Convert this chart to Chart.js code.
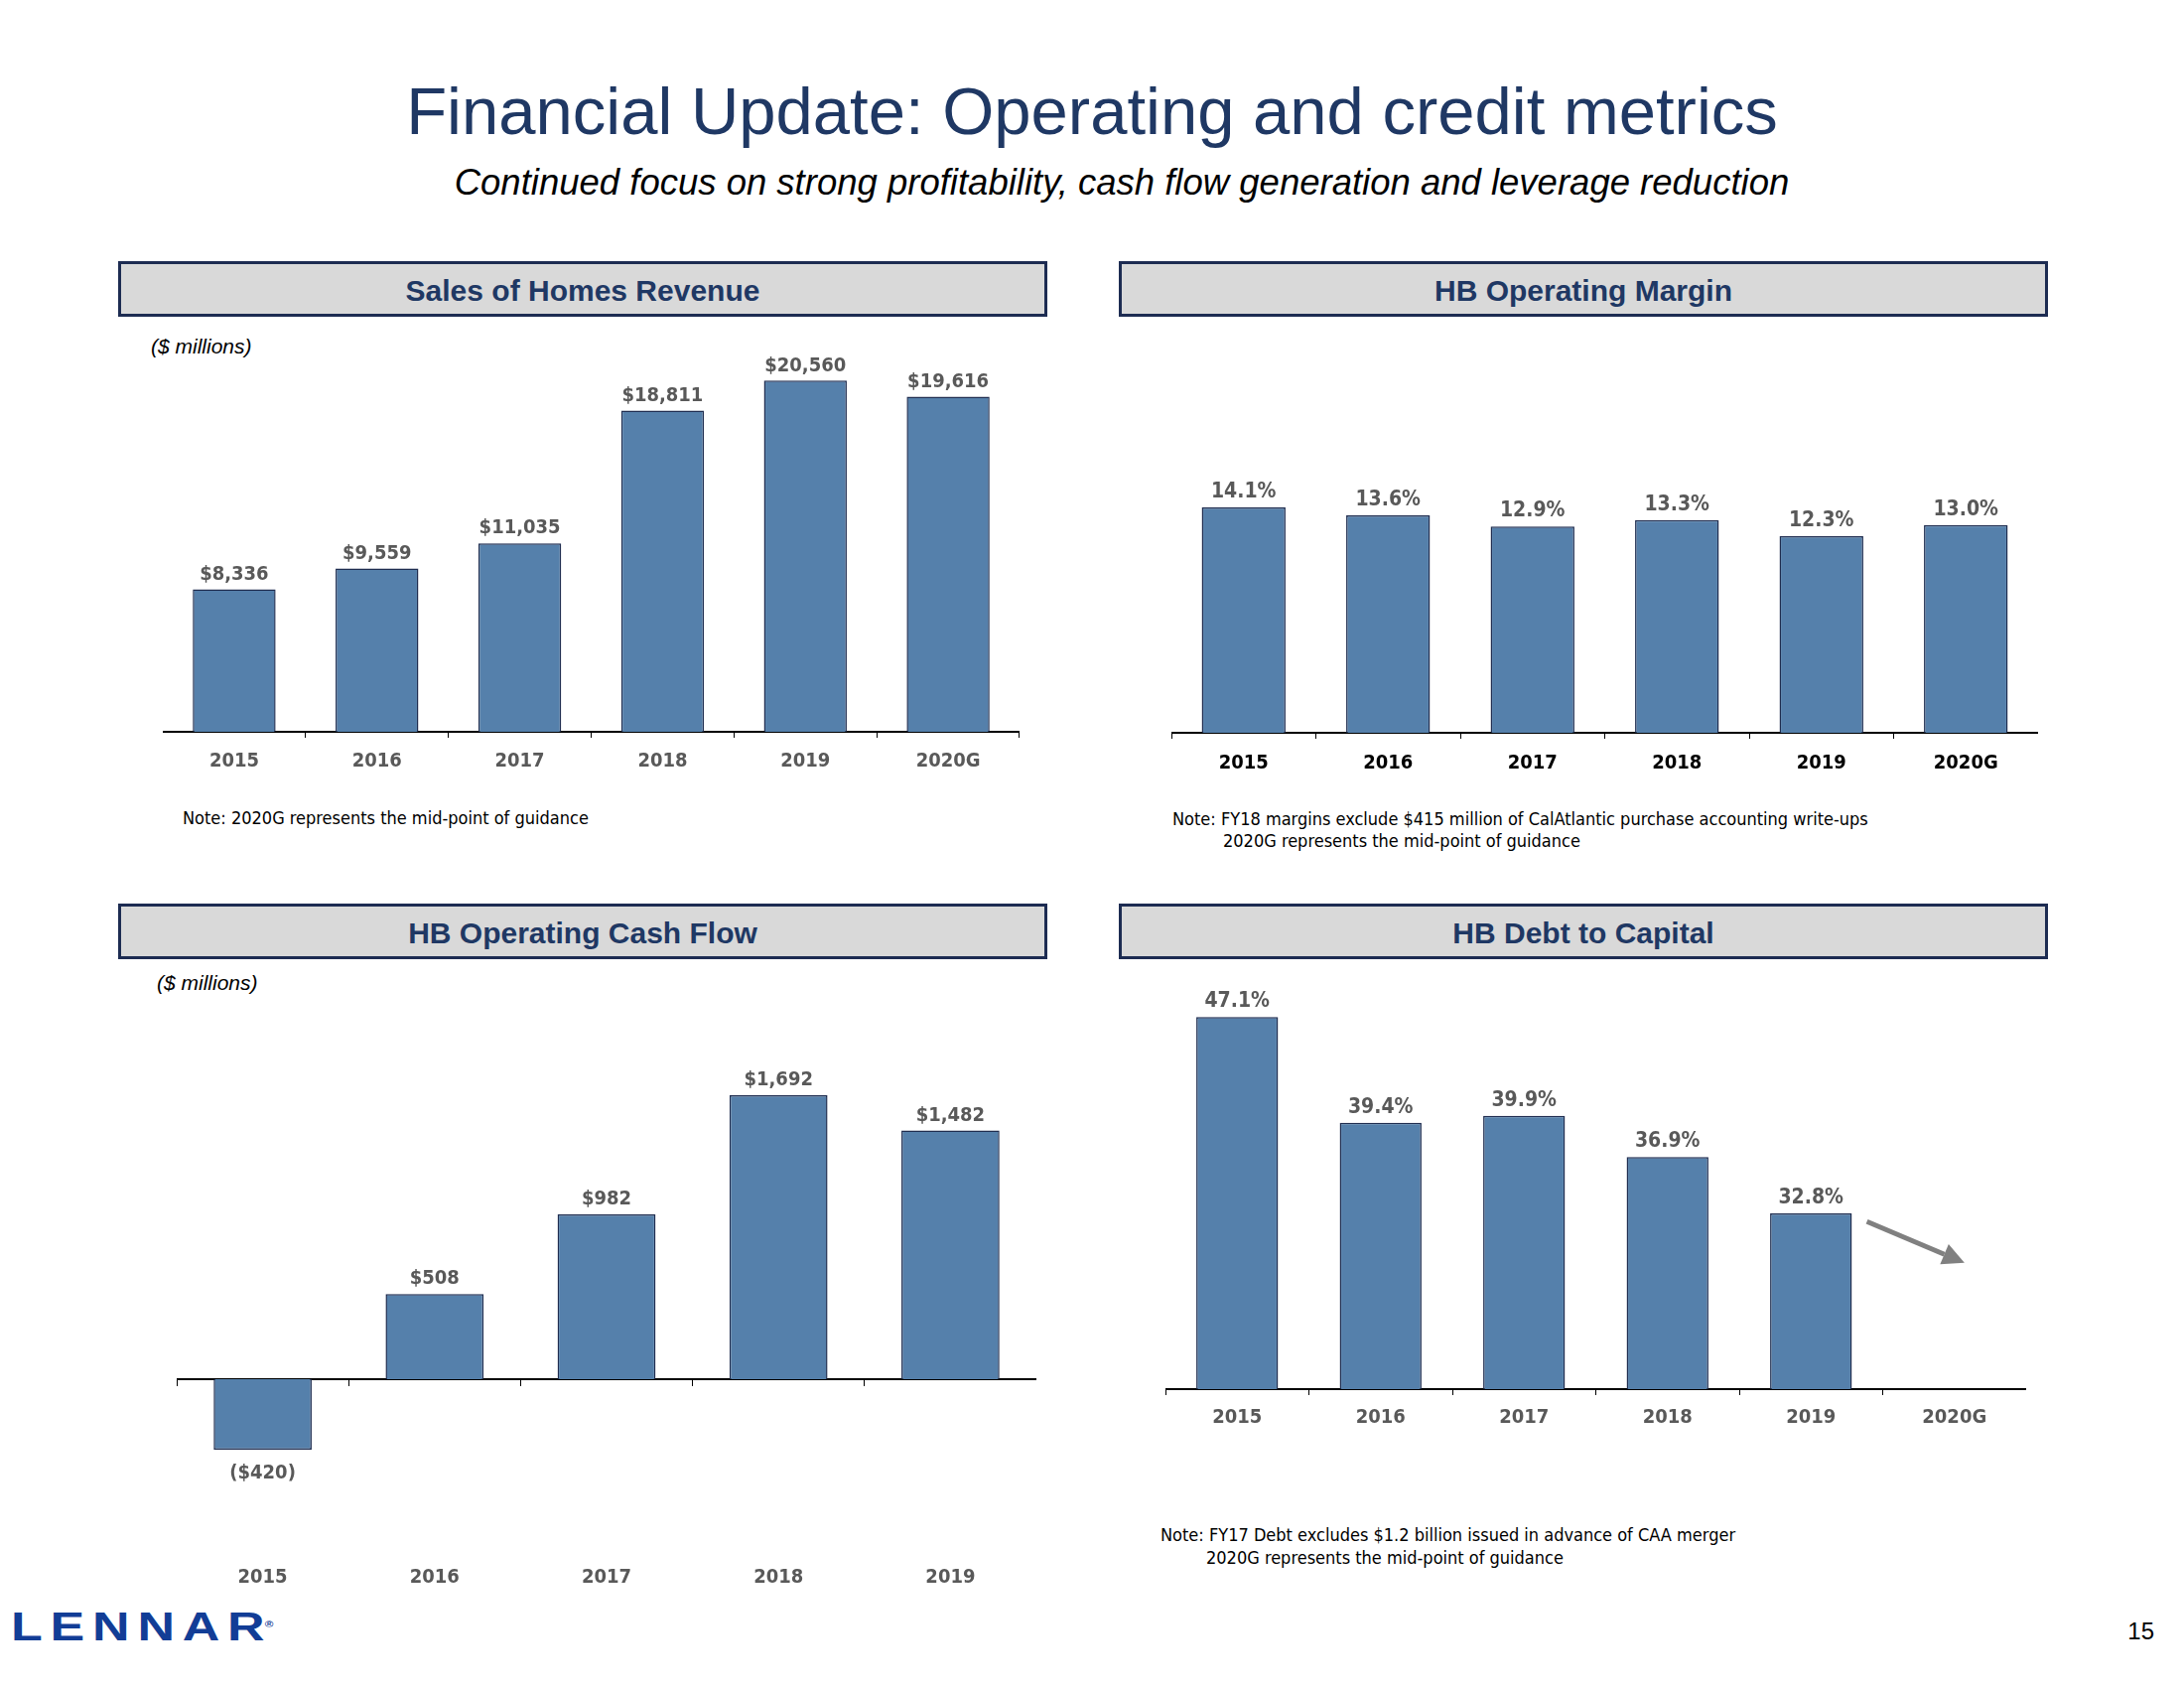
<!DOCTYPE html>
<html><head><meta charset="utf-8">
<script src="https://cdn.jsdelivr.net/npm/chart.js@4.4.1/dist/chart.umd.min.js"></script>
<style>
html,body{margin:0;padding:0;background:#fff;}
#page{position:relative;width:2200px;height:1700px;overflow:hidden;background:#fff;font-family:'Liberation Sans',Arial,sans-serif;}
.t{position:absolute;white-space:nowrap;}
.hdr{position:absolute;box-sizing:border-box;border:3px solid #1d2c52;background:#d9d9d9;color:#1f3864;font-weight:bold;font-size:30px;text-align:center;font-family:'Liberation Sans',Arial,sans-serif;}
.note{position:absolute;white-space:nowrap;font-family:'DejaVu Sans Condensed','DejaVu Sans',sans-serif;font-size:18px;color:#000;line-height:22px;}
.unit{position:absolute;white-space:nowrap;font-style:italic;font-size:21px;line-height:26px;color:#000;}
canvas{position:absolute;}
</style>
</head><body><div id="page">
<div class="t" style="left:0;width:2200px;top:72px;height:80px;line-height:80px;text-align:center;font-size:67px;color:#1f3864;">Financial Update: Operating and credit metrics</div>
<div class="t" style="left:0;width:2260px;top:162px;height:44px;line-height:44px;text-align:center;font-size:36.5px;font-style:italic;color:#000;">Continued focus on strong profitability, cash flow generation and leverage reduction</div>

<div class="hdr" style="left:119px;top:263px;width:936px;height:56px;line-height:53px;">Sales of Homes Revenue</div>
<div class="hdr" style="left:1127px;top:263px;width:936px;height:56px;line-height:53px;">HB Operating Margin</div>
<div class="hdr" style="left:119px;top:910px;width:936px;height:56px;line-height:53px;">HB Operating Cash Flow</div>
<div class="hdr" style="left:1127px;top:910px;width:936px;height:56px;line-height:53px;">HB Debt to Capital</div>

<div class="unit" style="left:152px;top:336px;">($ millions)</div>
<div class="unit" style="left:158px;top:977px;">($ millions)</div>

<div class="note" style="left:184px;top:813px;">Note: 2020G represents the mid-point of guidance</div>
<div class="note" style="left:1181px;top:814px;">Note: FY18 margins exclude $415 million of CalAtlantic purchase accounting write-ups</div>
<div class="note" style="left:1232px;top:836px;">2020G represents the mid-point of guidance</div>
<div class="note" style="left:1169px;top:1535px;">Note: FY17 Debt excludes $1.2 billion issued in advance of CAA merger</div>
<div class="note" style="left:1215px;top:1558px;">2020G represents the mid-point of guidance</div>

<div class="t" style="left:11px;top:1616px;height:44px;line-height:44px;font-size:40px;font-weight:bold;color:#123d96;font-family:'Liberation Sans',Arial,sans-serif;letter-spacing:6px;transform:scaleX(1.3);transform-origin:left center;">LENNAR<span style="font-size:9px;vertical-align:top;letter-spacing:0;position:relative;top:-2px;left:-6px;">®</span></div>
<div class="t" style="left:2130px;top:1629px;width:40px;text-align:right;height:28px;line-height:28px;font-size:24px;color:#000;">15</div>

<canvas id="c1" width="863" height="450" style="left:164px;top:337px;"></canvas>
<canvas id="c2" width="873" height="450" style="left:1180px;top:338px;"></canvas>
<canvas id="c3" width="866" height="610" style="left:178px;top:1000px;"></canvas>
<canvas id="c4" width="867" height="479" style="left:1174px;top:970px;"></canvas>
</div>
<script>
// ---- data ----
const years6 = ['2015', '2016', '2017', '2018', '2019', '2020G'];
const years5 = ['2015', '2016', '2017', '2018', '2019'];
const salesRevenue = [8336, 9559, 11035, 18811, 20560, 19616];
const operatingMargin = [14.1, 13.6, 12.9, 13.3, 12.3, 13.0];
const operatingCashFlow = [-420, 508, 982, 1692, 1482];
const debtToCapital = [47.1, 39.4, 39.9, 36.9, 32.8, null];
// trend arrow after the last actual value (category index, value)
const debtArrowFrom = [4.39, 32.2];
const debtArrowTo = [5.07, 29.2];

// ---- styles ----
const LABEL_FONT_FAMILY = "'DejaVu Sans Condensed','DejaVu Sans',sans-serif";
const BAR_FILL = '#5580ab';
const BAR_EDGE = '#1f2d50';
const GRAY = '#595959';

Chart.defaults.font.family = LABEL_FONT_FAMILY;
Chart.defaults.animation = false;

const fmtMoney = v => v < 0 ? '($' + Math.abs(v).toLocaleString('en-US') + ')' : '$' + v.toLocaleString('en-US');
const fmtPct = v => v.toFixed(1) + '%';

const valueLabels = {
  id: 'valueLabels',
  afterDatasetsDraw(chart, args, opts) {
    const ctx = chart.ctx;
    const meta = chart.getDatasetMeta(0);
    const data = chart.data.datasets[0].data;
    ctx.save();
    ctx.font = 'bold ' + (opts.size || 20) + 'px ' + LABEL_FONT_FAMILY;
    ctx.fillStyle = GRAY;
    ctx.textAlign = 'center';
    meta.data.forEach((bar, i) => {
      const v = data[i];
      if (v === null || v === undefined) return;
      const txt = opts.format(v);
      if (v >= 0) { ctx.textBaseline = 'bottom'; ctx.fillText(txt, bar.x, bar.y - 5); }
      else { ctx.textBaseline = 'top'; ctx.fillText(txt, bar.x, bar.y + 14); }
    });
    ctx.restore();
  }
};

const trendArrow = {
  id: 'trendArrow',
  afterDatasetsDraw(chart, args, opts) {
    if (!opts.from) return;
    const xs = chart.scales.x, ys = chart.scales.y, ctx = chart.ctx;
    const x1 = xs.getPixelForValue(opts.from[0]), y1 = ys.getPixelForValue(opts.from[1]);
    const x2 = xs.getPixelForValue(opts.to[0]), y2 = ys.getPixelForValue(opts.to[1]);
    const ang = Math.atan2(y2 - y1, x2 - x1);
    const head = 22, hw = 11;
    ctx.save();
    ctx.strokeStyle = '#808080'; ctx.fillStyle = '#808080';
    ctx.lineWidth = 5; ctx.lineCap = 'butt';
    const bx = x2 - head * Math.cos(ang), by = y2 - head * Math.sin(ang);
    ctx.beginPath(); ctx.moveTo(x1, y1); ctx.lineTo(bx, by); ctx.stroke();
    ctx.beginPath();
    ctx.moveTo(x2, y2);
    ctx.lineTo(bx + hw * Math.sin(ang), by - hw * Math.cos(ang));
    ctx.lineTo(bx - hw * Math.sin(ang), by + hw * Math.cos(ang));
    ctx.closePath(); ctx.fill();
    ctx.restore();
  }
};

function barDataset(data, pct) {
  return {
    data: data,
    backgroundColor: BAR_FILL,
    borderColor: BAR_EDGE,
    borderWidth: 1.5,
    categoryPercentage: 1,
    barPercentage: pct
  };
}

function bottomAxis(tickColor, pad, height) {
  return {
    type: 'category',
    offset: true,
    grid: { display: true, drawOnChartArea: false, drawTicks: true, tickLength: 6, offset: true, color: '#000', lineWidth: 1 },
    border: { display: true, color: '#000', width: 2 },
    ticks: { color: tickColor, font: { size: 20, weight: 'bold' }, padding: pad, maxRotation: 0, autoSkip: false },
    afterFit(axis) { axis.height = height; }
  };
}

function baseOptions(fmt, size) {
  return {
    responsive: false,
    events: [],
    layout: { padding: 0 },
    plugins: { legend: { display: false }, tooltip: { enabled: false }, valueLabels: { format: fmt, size: size } }
  };
}

// Chart 1: Sales of Homes Revenue
new Chart(document.getElementById('c1'), {
  type: 'bar',
  data: { labels: years6, datasets: [barDataset(salesRevenue, 0.58)] },
  options: Object.assign(baseOptions(fmtMoney, 20), {
    scales: {
      x: bottomAxis(GRAY, 12, 50),
      y: { display: false, min: 0, max: 23256 }
    }
  }),
  plugins: [valueLabels]
});

// Chart 2: HB Operating Margin
new Chart(document.getElementById('c2'), {
  type: 'bar',
  data: { labels: years6, datasets: [barDataset(operatingMargin, 0.58)] },
  options: Object.assign(baseOptions(fmtPct, 21), {
    scales: {
      x: bottomAxis('#000', 13, 50),
      y: { display: false, min: 0, max: 24.84 }
    }
  }),
  plugins: [valueLabels]
});

// Chart 3: HB Operating Cash Flow
new Chart(document.getElementById('c3'), {
  type: 'bar',
  data: { labels: years5, datasets: [Object.assign(barDataset(operatingCashFlow, 0.57), { xAxisID: 'x', yAxisID: 'y' })] },
  options: Object.assign(baseOptions(fmtMoney, 20), {
    scales: {
      x: {
        type: 'category',
        position: { y: 0 },
        offset: true,
        grid: { display: true, drawOnChartArea: false, drawTicks: true, tickLength: 6, offset: true, color: '#000', lineWidth: 1 },
        border: { display: true, color: '#000', width: 2 },
        ticks: { display: false }
      },
      x2: {
        type: 'category',
        position: 'bottom',
        offset: true,
        grid: { display: false },
        border: { display: false },
        ticks: { color: GRAY, font: { size: 20, weight: 'bold' }, padding: 29, maxRotation: 0, autoSkip: false },
        afterFit(axis) { axis.height = 70; }
      },
      y: { display: false, min: -893.5, max: 2302 }
    }
  }),
  plugins: [valueLabels]
});

// Chart 4: HB Debt to Capital
new Chart(document.getElementById('c4'), {
  type: 'bar',
  data: { labels: years6, datasets: [barDataset(debtToCapital, 0.57)] },
  options: Object.assign(baseOptions(fmtPct, 21), {
    scales: {
      x: bottomAxis(GRAY, 11, 50),
      y: { display: false, min: 20, max: 51.02 }
    },
    plugins: { legend: { display: false }, tooltip: { enabled: false }, valueLabels: { format: fmtPct, size: 21 }, trendArrow: { from: debtArrowFrom, to: debtArrowTo } }
  }),
  plugins: [valueLabels, trendArrow]
});
</script>
</body></html>
